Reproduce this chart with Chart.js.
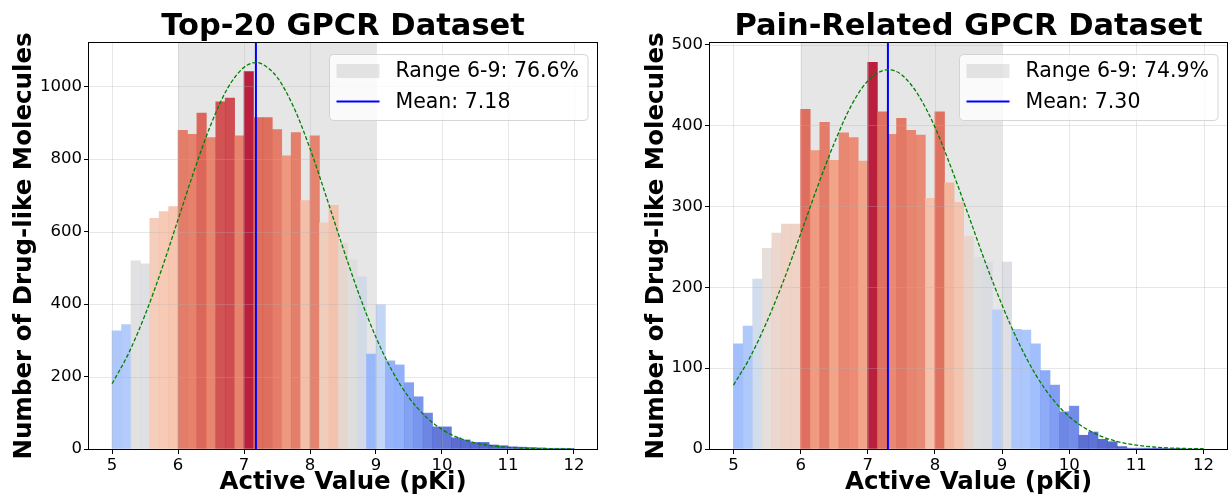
<!DOCTYPE html>
<html>
<head>
<meta charset="utf-8">
<script src="https://cdn.jsdelivr.net/npm/chart.js@4.4.1/dist/chart.umd.min.js"></script>
<style>
  html, body { margin: 0; padding: 0; background: #fff; }
  #wrap  { position: relative; width: 1228px; height: 495px; overflow: hidden; }
  canvas { position: absolute; top: 0; }
  #chart-top20 { left: 0; }
  #chart-pain  { left: 632px; }
</style>
</head>
<body>
<div id="wrap">
  <canvas id="chart-top20" width="632" height="495"></canvas>
  <canvas id="chart-pain"  width="596" height="495"></canvas>
</div>
<script>
// ── Data ──────────────────────────────────────────────────────────
// histogram: 49 bins of width 1/7 between pKi 5 and 12
const BIN_START = 5;
const BIN_WIDTH = 1 / 7;

const top20Counts = [
  326, 343, 519, 511, 636, 655, 669,
  879, 868, 927, 859, 958, 968, 864,
  1041, 914, 914, 881, 809, 873, 685,
  864, 624, 672, 568, 522, 475, 262,
  398, 243, 232, 183, 144, 99, 61,
  61, 31, 25, 18, 18, 11, 9,
  6, 5, 4, 3, 2, 2, 1,
];
const painCounts = [
  130, 152, 210, 248, 267, 278, 278,
  420, 369, 404, 357, 391, 385, 356,
  478, 417, 389, 409, 394, 388, 310,
  417, 329, 305, 263, 237, 231, 172,
  231, 148, 147, 130, 97, 79, 46,
  53, 17, 21, 12, 9, 3, 1,
  1, 1, 1, 0.5, 0.5, 0, 0,
];

// fitted normal curves (green dashed)
const top20CurveX = [5, 5.25, 5.5, 5.75, 6, 6.25, 6.5, 6.75, 7, 7.18, 7.25, 7.5, 7.75, 8, 8.25,
                     8.5, 8.75, 9, 9.25, 9.5, 9.75, 10, 10.25, 10.5, 10.75, 11, 11.25, 11.5, 11.75, 12];
const top20CurveY = [180, 264, 370, 495, 633, 771, 896, 995, 1053, 1066, 1064, 1026, 944, 829, 694,
                     555, 423, 308, 214, 142, 90, 54, 31, 17, 9, 4.5, 2, 1, 0.4, 0.2];
const painCurveX  = [5, 5.25, 5.5, 5.75, 6, 6.25, 6.5, 6.75, 7, 7.3, 7.5, 7.75, 8, 8.25, 8.5,
                     8.75, 9, 9.25, 9.5, 9.75, 10, 10.25, 10.5, 10.75, 11, 11.25, 11.5, 11.75, 12];
const painCurveY  = [79, 114, 158, 209, 266, 324, 378, 424, 455, 469, 463, 438, 398, 346, 289,
                     231, 178, 131, 92, 62, 40, 25, 15, 8.6, 4.7, 2.5, 1.2, 0.6, 0.3];

// tick labels
const xTicks     = [5, 6, 7, 8, 9, 10, 11, 12];
const top20YTicks = [0, 200, 400, 600, 800, 1000];
const painYTicks  = [0, 100, 200, 300, 400, 500];

// ── Style ─────────────────────────────────────────────────────────
const FONT = "'DejaVu Sans', sans-serif";
const SPAN_COLOR = 'rgba(128,128,128,0.2)';
const GRID_COLOR = 'rgba(176,176,176,0.3)';

// coolwarm colormap stops (0 → 1)
const COOLWARM = [
  [59, 76, 192], [98, 130, 234], [141, 176, 254], [184, 208, 249], [221, 221, 221],
  [245, 196, 173], [244, 154, 123], [222, 96, 77], [180, 4, 38],
];
function coolwarm(t, alpha) {
  const p = Math.min(Math.max(t, 0), 1) * (COOLWARM.length - 1);
  const i = Math.min(Math.floor(p), COOLWARM.length - 2);
  const f = p - i;
  const c = COOLWARM[i].map((v, k) => Math.round(v + (COOLWARM[i + 1][k] - v) * f));
  return `rgba(${c[0]},${c[1]},${c[2]},${alpha})`;
}

// ── Plugins ───────────────────────────────────────────────────────
// grey band for the 6-9 range
const rangeSpan = {
  id: 'rangeSpan',
  beforeDatasetsDraw(chart, args, opts) {
    const { ctx, chartArea: a, scales: { x } } = chart;
    const x0 = x.getPixelForValue(opts.from);
    const x1 = x.getPixelForValue(opts.to);
    ctx.save();
    ctx.fillStyle = SPAN_COLOR;
    ctx.fillRect(x0, a.top, x1 - x0, a.bottom - a.top);
    ctx.restore();
  },
};

// grid drawn above the bars, below the lines (like matplotlib)
const gridOverBars = {
  id: 'gridOverBars',
  afterDatasetDraw(chart, args) {
    if (args.meta.type !== 'bar') return;
    const { ctx, chartArea: a, scales: { x, y } } = chart;
    ctx.save();
    ctx.strokeStyle = GRID_COLOR;
    ctx.lineWidth = 1;
    ctx.beginPath();
    x.ticks.forEach(t => {
      const px = Math.round(x.getPixelForValue(t.value)) + 0.5;
      ctx.moveTo(px, a.top); ctx.lineTo(px, a.bottom);
    });
    y.ticks.forEach(t => {
      const py = Math.round(y.getPixelForValue(t.value)) + 0.5;
      ctx.moveTo(a.left, py); ctx.lineTo(a.right, py);
    });
    ctx.stroke();
    ctx.restore();
  },
};

// black box round the plot area
const frame = {
  id: 'frame',
  afterDatasetsDraw(chart) {
    const { ctx, chartArea: a } = chart;
    ctx.save();
    ctx.strokeStyle = '#000';
    ctx.lineWidth = 1;
    ctx.strokeRect(Math.round(a.left) - 0.5, Math.round(a.top) - 0.5,
                   Math.round(a.right - a.left) + 1, Math.round(a.bottom - a.top) + 1);
    ctx.restore();
  },
};

// legend box in the upper right corner
const boxLegend = {
  id: 'boxLegend',
  afterDraw(chart, args, opts) {
    const { ctx, chartArea: a } = chart;
    ctx.save();
    ctx.font = `20.5px ${FONT}`;
    const textW = Math.max(...opts.items.map(it => ctx.measureText(it.text).width));
    const w = 66 + textW + 9;
    const h = 66;
    const x0 = Math.round(a.right - 9 - w) + 0.5;
    const y0 = Math.round(a.top + 11) + 0.5;

    ctx.beginPath();
    ctx.roundRect(x0, y0, w, h, 4);
    ctx.fillStyle = 'rgba(255,255,255,0.8)';
    ctx.fill();
    ctx.strokeStyle = 'rgba(204,204,204,0.8)';
    ctx.lineWidth = 1;
    ctx.stroke();

    opts.items.forEach((it, i) => {
      const cy = y0 + 16.5 + i * 30.5;
      if (it.kind === 'patch') {
        ctx.fillStyle = SPAN_COLOR;
        ctx.fillRect(x0 + 7, cy - 7, 43, 14);
      } else {
        ctx.strokeStyle = it.color;
        ctx.lineWidth = 2;
        ctx.beginPath();
        ctx.moveTo(x0 + 7, cy); ctx.lineTo(x0 + 50, cy);
        ctx.stroke();
      }
      ctx.fillStyle = '#000';
      ctx.textBaseline = 'middle';
      ctx.fillText(it.text, x0 + 66, cy + 1);
    });
    ctx.restore();
  },
};

// ── Build chart ───────────────────────────────────────────────────
function buildChart(canvasId, cfg) {
  const ctx = document.getElementById(canvasId).getContext('2d');
  const maxCount = Math.max(...cfg.counts);
  const centers = cfg.counts.map((_, i) => BIN_START + (i + 0.5) * BIN_WIDTH);

  return new Chart(ctx, {
    type: 'bar',
    data: {
      datasets: [
        {
          type: 'line',
          label: 'Normal fit',
          data: cfg.curveX.map((x, i) => ({ x, y: cfg.curveY[i] })),
          borderColor: 'rgb(0,128,0)',
          borderWidth: 1.3,
          borderDash: [4, 2],
          pointRadius: 0,
          cubicInterpolationMode: 'monotone',
          order: 1,
        },
        {
          type: 'line',
          label: 'Mean',
          data: [{ x: cfg.mean, y: 0 }, { x: cfg.mean, y: cfg.yMax }],
          borderColor: 'rgb(0,0,255)',
          borderWidth: 2,
          pointRadius: 0,
          order: 2,
        },
        {
          type: 'bar',
          label: 'Molecules',
          data: centers.map((x, i) => ({ x, y: cfg.counts[i] })),
          backgroundColor: cfg.counts.map(c => coolwarm(c / maxCount, 0.88)),
          borderWidth: 0,
          barPercentage: 1,
          categoryPercentage: 1,
          order: 3,
        },
      ],
    },
    options: {
      responsive: false,
      animation: false,
      events: [],
      layout: { padding: { left: 0, right: cfg.padRight, top: 0, bottom: 0 } },
      plugins: {
        legend: { display: false },
        tooltip: { enabled: false },
        title: {
          display: true,
          text: cfg.title,
          fullSize: false,
          color: '#000',
          font: { family: FONT, size: 30.5, weight: 'bold', lineHeight: 1 },
          padding: { top: 11.5, bottom: 1 },
        },
        rangeSpan: { from: 6, to: 9 },
        boxLegend: {
          items: [
            { kind: 'patch', text: cfg.rangeLabel },
            { kind: 'line', color: 'rgb(0,0,255)', text: cfg.meanLabel },
          ],
        },
      },
      scales: {
        x: {
          type: 'linear',
          min: 4.65,
          max: 12.35,
          offset: false,
          grid: { offset: false, drawOnChartArea: false, tickLength: 5, tickColor: '#000', tickWidth: 1 },
          border: { display: false },
          afterBuildTicks: s => { s.ticks = xTicks.map(v => ({ value: v })); },
          ticks: {
            autoSkip: false,
            maxRotation: 0,
            color: '#000',
            padding: 2,
            font: { family: FONT, size: 16.5 },
            callback: v => String(v),
          },
          title: {
            display: true,
            text: 'Active Value (pKi)',
            color: '#000',
            font: { family: FONT, size: 24.5, weight: 'bold', lineHeight: 1 },
            padding: { top: 0, bottom: 0 },
          },
          afterFit: s => { s.height = 46; },
        },
        y: {
          min: 0,
          max: cfg.yMax,
          grid: { drawOnChartArea: false, tickLength: 5, tickColor: '#000', tickWidth: 1 },
          border: { display: false },
          afterBuildTicks: s => { s.ticks = cfg.yTicks.map(v => ({ value: v })); },
          ticks: {
            autoSkip: false,
            color: '#000',
            padding: 2,
            font: { family: FONT, size: 16.5 },
            callback: v => String(v),
          },
          title: {
            display: true,
            text: 'Number of Drug-like Molecules',
            color: '#000',
            font: { family: FONT, size: 24.5, weight: 'bold', lineHeight: 1.2 },
            padding: { top: 10, bottom: 0 },
          },
          afterFit: s => { s.width = cfg.yAxisWidth; },
        },
      },
    },
    plugins: [rangeSpan, gridOverBars, frame, boxLegend],
  });
}

// ── Init ──────────────────────────────────────────────────────────
buildChart('chart-top20', {
  title: 'Top-20 GPCR Dataset',
  counts: top20Counts,
  curveX: top20CurveX,
  curveY: top20CurveY,
  mean: 7.18,
  rangeLabel: 'Range 6-9: 76.6%',
  meanLabel: 'Mean: 7.18',
  yMax: 1120,
  yTicks: top20YTicks,
  yAxisWidth: 89,
  padRight: 35,
});

buildChart('chart-pain', {
  title: 'Pain-Related GPCR Dataset',
  counts: painCounts,
  curveX: painCurveX,
  curveY: painCurveY,
  mean: 7.30,
  rangeLabel: 'Range 6-9: 74.9%',
  meanLabel: 'Mean: 7.30',
  yMax: 502,
  yTicks: painYTicks,
  yAxisWidth: 78,
  padRight: 1,
});
</script>
</body>
</html>
